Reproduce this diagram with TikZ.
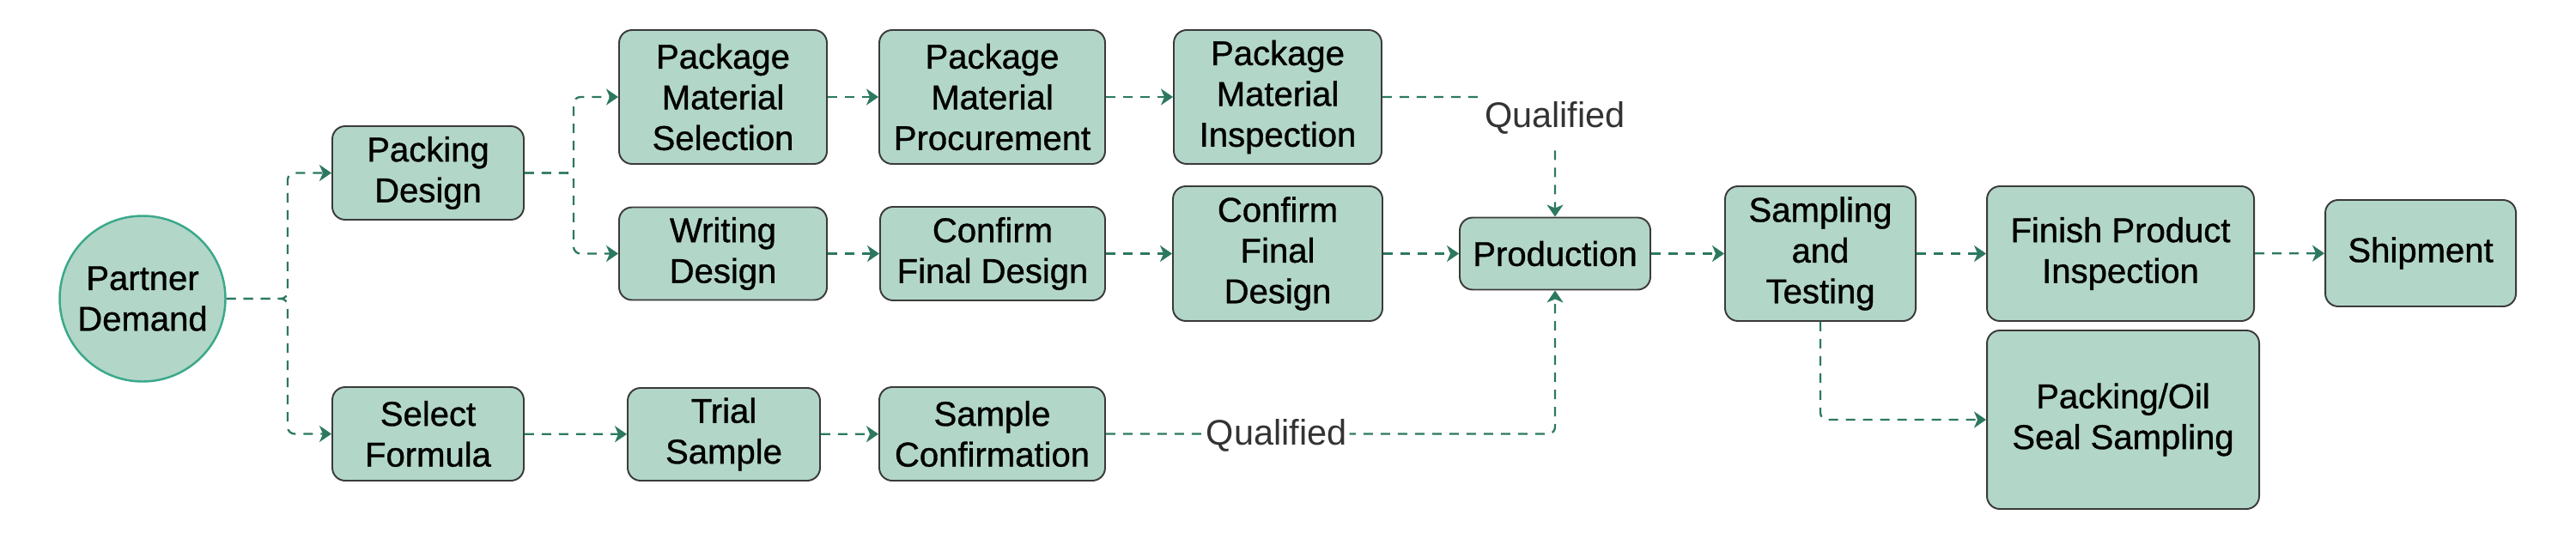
\documentclass[tikz,border=0pt]{standalone}
\usepackage{fontspec}
\setmainfont{Liberation Sans}
\newfontfamily\heavysans[FakeBold=0.9]{Liberation Sans}
\usetikzlibrary{positioning,arrows.meta}
\definecolor{nodefill}{RGB}{178,214,200}
\definecolor{nodeline}{RGB}{58,58,58}
\definecolor{circline}{RGB}{58,168,138}
\definecolor{flowgreen}{RGB}{44,120,96}
\definecolor{labgray}{RGB}{51,51,51}
\newcommand{\nodefont}{\heavysans\fontsize{11.4pt}{13.5pt}\selectfont}
\tikzset{
  box/.style={draw=nodeline,line width=0.55pt,fill=nodefill,rounded corners=0.15cm,align=center,font=\nodefont,inner sep=0pt},
  circ/.style={circle,draw=circline,line width=0.7pt,fill=nodefill,align=center,font=\nodefont,inner sep=0pt},
  sz/.style 2 args={minimum width=#1cm,minimum height=#2cm},
  flow/.style={draw=flowgreen,line width=0.65pt,dash pattern=on 0.11cm off 0.09cm,rounded corners=0.08cm,-{Stealth[length=0.14cm,width=0.19cm,inset=0.04cm]}},
  qlab/.style={fill=white,text=labgray,font=\fontsize{11.8pt}{14pt}\selectfont,inner xsep=0.03cm,inner ysep=0.12cm}
}
\begin{document}
\begin{tikzpicture}
  \useasboundingbox (0,0) rectangle (30,6.2);
  \node[circ,minimum size=1.93cm] (pd) at (1.66,2.72) {Partner\\Demand};
  \node[box,sz={2.23}{1.09}] (pack) at (4.985,4.185) {Packing\\Design};
  \node[box,sz={2.23}{1.09}] (sel) at (4.985,1.145) {Select\\Formula};
  \node[box,sz={2.42}{1.56}] (pms) at (8.42,5.07) {Package\\Material\\Selection};
  \node[box,sz={2.63}{1.56}] (pmp) at (11.555,5.07) {Package\\Material\\Procurement};
  \node[box,sz={2.42}{1.56}] (pmi) at (14.88,5.07) {Package\\Material\\Inspection};
  \node[box,sz={2.42}{1.08}] (wd) at (8.42,3.245) {Writing\\Design};
  \node[box,sz={2.62}{1.09}] (cfd) at (11.56,3.245) {Confirm\\Final Design};
  \node[box,sz={2.44}{1.57}] (cfdf) at (14.88,3.245) {Confirm\\Final\\Design};
  \node[box,sz={2.22}{0.84}] (prod) at (18.11,3.245) {Production};
  \node[box,sz={2.22}{1.57}] (samp) at (21.20,3.245) {Sampling\\and\\Testing};
  \node[box,sz={3.11}{1.57}] (fin) at (24.695,3.245) {Finish Product\\Inspection};
  \node[box,sz={2.22}{1.24}] (ship) at (28.19,3.25) {Shipment};
  \node[box,sz={3.17}{2.08}] (pos) at (24.725,1.31) {Packing/Oil\\Seal Sampling};
  \node[box,sz={2.24}{1.08}] (trial) at (8.43,1.14) {Trial\\Sample};
  \node[box,sz={2.63}{1.09}] (sc) at (11.555,1.145) {Sample\\Confirmation};
  \coordinate (j1) at (3.35,2.72); \coordinate (j2) at (6.68,4.185);
  \draw[flow] (pd.east) -- (j1) |- (pack.west); \draw[flow] (pd.east) -- (j1) |- (sel.west);
  \draw[flow] (pack.east) -- (j2) |- (pms.west); \draw[flow] (pack.east) -- (j2) |- (wd.west);
  \draw[flow] (pms) -- (pmp); \draw[flow] (pmp) -- (pmi);
  \draw[flow] (wd) -- (cfd); \draw[flow] (cfd) -- (cfdf); \draw[flow] (cfdf) -- (prod);
  \draw[flow] (prod) -- (samp); \draw[flow] (samp) -- (fin); \draw[flow] (fin) -- (ship);
  \draw[flow] (sel) -- (trial); \draw[flow] (trial) -- (sc);
  \draw[flow] (samp.south) |- (pos.west);
  \draw[flow] (pmi.east) -| node[qlab,pos=0.5,yshift=-0.24cm] (q1) {Qualified} (prod.north);
  \draw[flow] (sc.east) -| node[qlab,pos=0.19,yshift=-0.02cm] (q2) {Qualified} (prod.south);
\end{tikzpicture}
\end{document}
